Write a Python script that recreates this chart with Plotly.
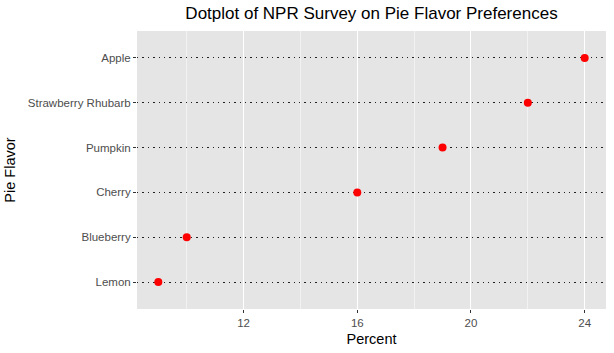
import plotly.graph_objects as go

flavors = ["Lemon", "Blueberry", "Cherry", "Pumpkin", "Strawberry Rhubarb", "Apple"]
percent = [9, 10, 16, 19, 22, 24]
x_ticks = [12, 16, 20, 24]
x_minor = [10, 14, 18, 22]

fig = go.Figure()
fig.add_trace(go.Scatter(
    x=percent, y=flavors, mode="markers",
    marker=dict(color="#ff0000", size=8, line=dict(width=0)),
    showlegend=False, hoverinfo="x+y",
))

fig.update_layout(
    width=614, height=353,
    margin=dict(l=136.5, r=7.5, t=31, b=44),
    paper_bgcolor="white", plot_bgcolor="#e5e5e5",
    font=dict(family="Liberation Sans, Arial, sans-serif", color="#4d4d4d"),
    title=dict(text="Dotplot of NPR Survey on Pie Flavor Preferences",
               x=0.5, xanchor="center", xref="paper", y=0.962, yanchor="middle",
               font=dict(size=17, color="black")),
    xaxis=dict(
        range=[8.25, 24.75], tickvals=x_ticks, ticktext=[str(v) for v in x_ticks],
        showgrid=True, gridcolor="white", gridwidth=1.1,
        minor=dict(tickvals=x_minor, showgrid=True, gridcolor="#f2f2f2", gridwidth=0.6, ticklen=0),
        ticks="outside", ticklen=3, tickcolor="#333333", tickwidth=1,
        tickfont=dict(size=11.5, color="#4d4d4d"),
        zeroline=False, showline=False,
        title=dict(text="Percent", font=dict(size=14.5, color="black"), standoff=6),
    ),
    yaxis=dict(
        categoryorder="array", categoryarray=flavors, range=[-0.6, 5.6],
        showgrid=True, gridcolor="#222222", gridwidth=1.4, griddash="1.4px,4px",
        ticks="outside", ticklen=3, tickcolor="#333333", tickwidth=1,
        tickfont=dict(size=11.5, color="#4d4d4d"),
        zeroline=False, showline=False,
        title=dict(text="Pie Flavor", font=dict(size=14.5, color="black"), standoff=8),
    ),
)

fig.write_html("out.html")
